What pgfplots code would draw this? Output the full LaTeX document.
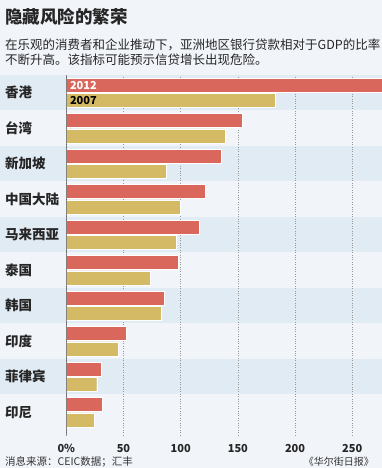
\documentclass[border=0pt]{standalone}
\usepackage{pgfplots}
\pgfplotsset{compat=1.18}
\usepackage{fontspec}
\setmainfont{Noto Sans CJK SC}
\definecolor{bgl}{HTML}{F1F4F9}
\definecolor{bgd}{HTML}{E1EBF3}
\definecolor{c12}{HTML}{D9675B}
\definecolor{c07}{HTML}{D5BA65}
\begin{document}
\begin{tikzpicture}[x=1pt,y=1pt]
\fill[bgl] (0,0) rectangle (382,468);
\foreach \t in {75,146,217,288,359} { \fill[bgd] (0,{468-\t}) rectangle (382,{468-\t-35.5}); }
\node[anchor=base west, font=\bfseries\fontsize{17.5}{20}\selectfont, inner sep=0, text=black!85] at (5,{468-23.6}) {隐藏风险的繁荣};
\node[anchor=base west, font=\fontsize{12.5}{15}\selectfont, inner sep=0, text=black!85] at (5,{468-49.8}) {在乐观的消费者和企业推动下，亚洲地区银行贷款相对于GDP的比率};
\node[anchor=base west, font=\fontsize{12.5}{15}\selectfont, inner sep=0, text=black!85] at (5,{468-64.8}) {不断升高。该指标可能预示信贷增长出现危险。};
\node[anchor=base west, font=\fontsize{10.5}{12}\selectfont, inner sep=0, text=black!80] at (5,{468-466}) {消息来源：CEIC数据；汇丰};
\node[anchor=base east, font=\fontsize{10}{12}\selectfont, inner sep=0, text=black!80] at (374,{468-466}) {《华尔街日报》};
\begin{axis}[
  at={(66.3pt,33pt)}, anchor=south west,
  scale only axis, width=315.7pt, height=360pt,
  xmin=0, xmax=276, ymin=-0.641, ymax=9.5,
  xbar, bar width=14pt,
  axis line style={draw=none},
  major tick length=0pt,
  xtick={0,50,100,150,200,250},
  xticklabels={0\%,50,100,150,200,250},
  xticklabel style={anchor=base, inner sep=0pt, yshift=-17pt, text=black!85, font=\bfseries\fontsize{11}{13}\selectfont},
  /pgf/number format/assume math mode=true,
  ytick={0,...,9},
  yticklabels={印尼,菲律宾,印度,韩国,泰国,马来西亚,中国大陆,新加坡,台湾,香港},
  yticklabel style={anchor=base west, inner sep=0pt, xshift=-61.3pt, yshift=-5.1pt, text=black!85, font=\bfseries\fontsize{13.5}{15}\selectfont},
  xmajorgrids, grid style={dotted, black!40, line width=0.6pt},
]
\addplot[fill=c12, draw=white, line width=0.4pt, bar shift=7.6pt] coordinates {
 (31.8,0) (30.6,1) (52.8,2) (85.5,3) (97.5,4) (116.4,5) (121.3,6) (135.3,7) (153.4,8) (280,9)};
\addplot[fill=c07, draw=white, line width=0.4pt, bar shift=-7.6pt] coordinates {
 (24.8,0) (26.6,1) (45.8,2) (82.6,3) (73.5,4) (95.7,5) (99.8,6) (87,7) (138.8,8) (182.6,9)};
\draw[black!70, line width=1.3pt] (axis cs:0,-0.641) -- (axis cs:0,9.5);
\node[anchor=west, inner sep=0pt, xshift=3.5pt, yshift=7.6pt, text=white, font=\bfseries\fontsize{11}{13}\selectfont] at (axis cs:0,9) {2012};
\node[anchor=west, inner sep=0pt, xshift=3.5pt, yshift=-7.6pt, text=black, font=\bfseries\fontsize{11}{13}\selectfont] at (axis cs:0,9) {2007};
\end{axis}
\pgfresetboundingbox
\useasboundingbox (0,0) rectangle (382,468);
\end{tikzpicture}
\end{document}
